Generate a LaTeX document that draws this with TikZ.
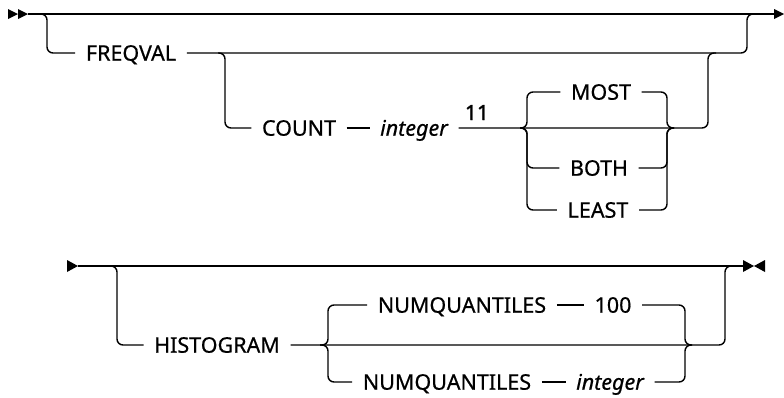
\documentclass[tikz,border=0pt]{standalone}
\usepackage{fontspec}
\setmainfont{Noto Sans}
\newfontfamily\kwfont{Noto Sans}[FakeBold=0.6]
\newfontfamily\nbfont{Noto Sans}[FakeBold=1.6]
\begin{document}
\begin{tikzpicture}[x=1pt,y=-1pt,line width=1.4pt,
  rc/.style={rounded corners=6pt},
  kw/.style={inner xsep=10pt,inner ysep=0pt,text height=15.4pt,text depth=0pt,font=\fontsize{21.5}{25}\kwfont},
  var/.style={kw,font=\fontsize{21.5}{25}\kwfont\itshape},
  note/.style={inner sep=0pt,anchor=base,font=\fontsize{21}{25}\nbfont},
  tipr/.style={fill=black}]
\useasboundingbox (0,0) rectangle (784,397);
% ---------- top row ----------
\coordinate (s1) at (28,14);
\coordinate (e1) at (775,14);
\fill[tipr] (8,9) -- (18,14) -- (8,19) -- cycle;
\fill[tipr] (18,9) -- (28,14) -- (18,19) -- cycle;
\draw (s1) -- (e1);
\fill[tipr] (774,9) -- (784,14) -- (774,19) -- cycle;

\node[kw] (freqval) at (131,53) {FREQVAL};
\node[kw] (count) at (299,128) {COUNT};
\node[var] (int1) at (414,128) {integer};
\node[note] (eleven) at (477,120) {11};
\node[kw] (most) at (601,92) {MOST};
\node[kw] (both) at (599,168) {BOTH};
\node[kw] (least) at (598,210) {LEAST};

\draw[rc] (38,14) -| (47,53) -- (freqval);
\draw[rc] (freqval) -- (747,53) |- (756,14);
\draw[rc] (218,53) -| (225,128) -- (count);
\draw (count) -- (int1);
\draw[rc] (int1) -- (708,128) |- (716,53);
\draw[rc] (520,128) -| (527,92) -- (most);
\draw[rc] (most) -| (667,128) -- (674,128);
\draw[rc] (520,128) -| (527,168) -- (both);
\draw[rc] (both) -| (667,128) -- (674,128);
\draw[rc] (520,128) -| (527,210) -- (least);
\draw[rc] (least) -| (667,128) -- (674,128);

% ---------- bottom row ----------
\coordinate (s2) at (78,266);
\coordinate (e2) at (743,266);
\fill[tipr] (67,260) -- (78,266) -- (67,272) -- cycle;
\draw (s2) -- (e2);
\fill[tipr] (743,260) -- (754,266) -- (743,272) -- cycle;
\fill[tipr] (765,260) -- (754,266) -- (765,272) -- cycle;

\node[kw] (hist) at (217,345) {HISTOGRAM};
\node[kw] (nq1) at (462,305) {NUMQUANTILES};
\node[kw] (hundred) at (613,305) {100};
\node[kw] (nq2) at (447,382) {NUMQUANTILES};
\node[var] (int2) at (610,382) {integer};

\draw[rc] (110,266) -| (117,345) -- (hist);
\draw[rc] (hist) -- (725,345) |- (733,266);
\draw[rc] (320,345) -| (328,305) -- (nq1);
\draw (nq1) -- (hundred);
\draw[rc] (hundred) -| (685,345) -- (692,345);
\draw[rc] (320,345) -| (328,382) -- (nq2);
\draw (nq2) -- (int2);
\draw[rc] (int2) -| (685,345) -- (692,345);
\end{tikzpicture}
\end{document}
